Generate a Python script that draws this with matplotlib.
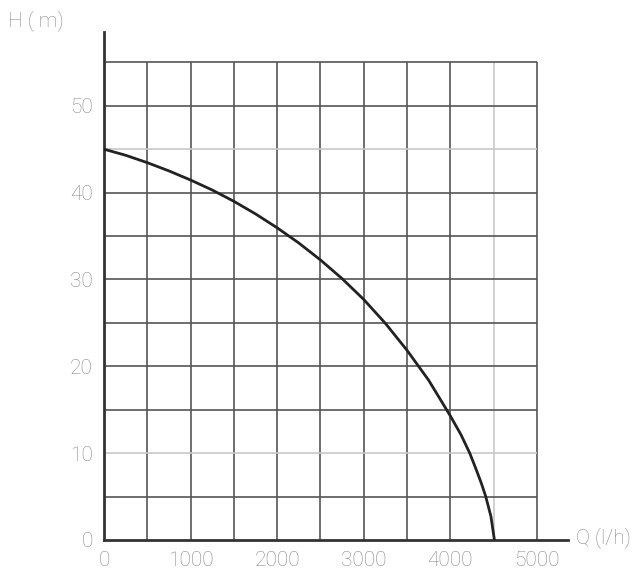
import numpy as np
import matplotlib.pyplot as plt

# Pump curve: flow Q (l/h) vs head H (m)
flow = [0, 250, 500, 750, 1000, 1250, 1500, 1750, 2000, 2250, 2500,
        2750, 3000, 3250, 3500, 3750, 4000, 4125, 4225, 4300, 4360,
        4410, 4470, 4510]
head = [45, 44.3, 43.45, 42.5, 41.45, 40.3, 39.0, 37.55, 35.95, 34.2, 32.25,
        30.1, 27.7, 24.95, 21.85, 18.4, 14.3, 12.1, 10.0, 8.1, 6.5,
        5.0, 2.7, 0]

x_ticks = [0, 1000, 2000, 3000, 4000, 5000]
y_ticks = [0, 10, 20, 30, 40, 50]
grid_x = [500, 1000, 1500, 2000, 2500, 3000, 3500, 4000, 4500, 5000]
grid_y = [5, 10, 15, 20, 25, 30, 35, 40, 45, 50, 55]
faint_x = [4500]
faint_y = [10, 45]

FONT = ['Roboto', 'DejaVu Sans']
TXT = '#8a8a8a'
txt_kw = dict(family=FONT, fontsize=15, color=TXT, fontweight='light')

fig = plt.figure(figsize=(6.4, 5.81), dpi=100)
ax = fig.add_axes([0.1625, 0.0706, 0.725, 0.8744])

for gx in grid_x:
    c = '#c8c8c8' if gx in faint_x else '#555555'
    ax.vlines(gx, 0, 55, color=c, lw=1.2, zorder=1)
for gy in grid_y:
    c = '#c8c8c8' if gy in faint_y else '#555555'
    ax.hlines(gy, 0, 5000, color=c, lw=1.2, zorder=1)

ax.plot(flow, head, color='#222222', lw=2, zorder=3,
        solid_joinstyle='round')

ax.set_xlim(0, 5360)
ax.set_ylim(0, 58.5)
for s in ['top', 'right']:
    ax.spines[s].set_visible(False)
for s in ['left', 'bottom']:
    ax.spines[s].set_linewidth(2)
    ax.spines[s].set_color('#333333')

ax.set_xticks(x_ticks)
ax.set_yticks(y_ticks)
ax.tick_params(length=0, pad=8)
for lbl in ax.get_xticklabels() + ax.get_yticklabels():
    lbl.set(**txt_kw)

fig.text(0.012, 0.965, 'H ( m)', va='center', **txt_kw)
fig.text(0.9, 0.075, 'Q (l/h)', va='center', **txt_kw)

fig.savefig('out.png', dpi=100)
